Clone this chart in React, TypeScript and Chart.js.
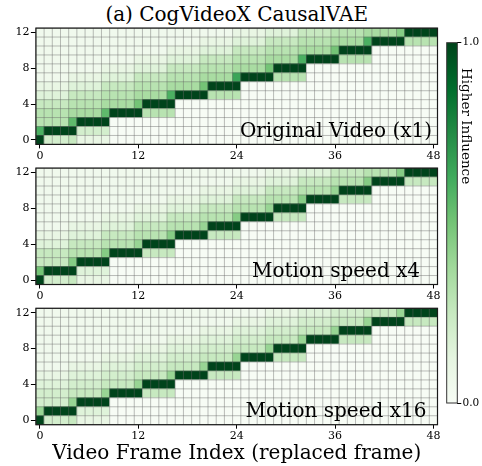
import React, { useEffect, useRef } from 'react';
import { Chart, registerables } from 'chart.js';

Chart.register(...registerables);
Chart.defaults.font.family = "'DejaVu Serif', serif";
Chart.defaults.color = '#000';

// ---------------- data ----------------
// x: video frame index (replaced frame), y: latent frame index
const FRAME_INDEX = Array.from({ length: 49 }, (_, i) => i);
const LATENT_INDEX = [0, 1, 2, 3, 4, 5, 6, 7, 8, 9, 10, 11, 12];
const X_TICKS = [0, 12, 24, 36, 48];
const Y_TICKS = [0, 4, 8, 12];
const CBAR_TICKS = [0, 1];
const CBAR_RANGE = [0, 1];

const TITLE = '(a) CogVideoX CausalVAE';
const X_TITLE = 'Video Frame Index (replaced frame)';
const CBAR_TITLE = 'Higher Influence';
const PANEL_LABELS = ['Original Video (x1)', 'Motion speed x4', 'Motion speed x16'];

// influence, one char per frame: '0'..'9','A'..'K' = 0.00..1.00 in steps of 0.05
// layout of each row: frame 0 | frames 1-4 | 5-8 | ... | 45-48 ; row index = latent index
const LEVELS = '0123456789ABCDEFGHIJK';

const ORIGINAL_X1 = [
  'K 4445 2222 0000 0000 0000 0000 0000 0000 0000 0000 0000 0000',
  'C KKKK 4444 0000 0000 0000 0000 0000 0000 0000 0000 0000 0000',
  '6 666B KKKK 0000 0000 0000 0000 0000 0000 0000 0000 0000 0000',
  '6 6667 777B KKKK 6666 0000 0000 0000 0000 0000 0000 0000 0000',
  '5 5556 6667 777A KKKK 0000 0000 0000 0000 0000 0000 0000 0000',
  '3 3335 5556 6667 777C KKKK 6666 0000 0000 0000 0000 0000 0000',
  '2 2223 3335 5556 6667 777A KKKK 0000 0000 0000 0000 0000 0000',
  '1 1112 2223 3335 5556 6667 777D KKKK 6666 0000 0000 0000 0000',
  '1 1111 1112 2223 3335 5556 6667 777A KKKK 0000 0000 0000 0000',
  '1 1111 1111 1112 2223 3335 5556 6667 777C KKKK 6666 0000 0000',
  '1 1111 1111 1111 1112 2223 3335 5556 6667 777A KKKK 0000 0000',
  '1 1111 1111 1111 1111 1112 2223 3335 5556 6667 777C KKKK 6666',
  '1 1111 1111 1111 1111 1111 1112 2223 3335 5556 6667 7779 KKKK',
];

const MOTION_X4 = [
  'K 4445 2222 0000 0000 0000 0000 0000 0000 0000 0000 0000 0000',
  'A KKKK 3333 0000 0000 0000 0000 0000 0000 0000 0000 0000 0000',
  '5 5559 KKKK 0000 0000 0000 0000 0000 0000 0000 0000 0000 0000',
  '5 5556 6669 KKKK 5555 0000 0000 0000 0000 0000 0000 0000 0000',
  '3 3335 5556 6668 KKKK 0000 0000 0000 0000 0000 0000 0000 0000',
  '2 2223 3335 5556 6669 KKKK 5555 0000 0000 0000 0000 0000 0000',
  '1 1112 2223 3335 5556 6668 KKKK 0000 0000 0000 0000 0000 0000',
  '1 1111 1112 2223 3335 5556 6669 KKKK 5555 0000 0000 0000 0000',
  '1 1111 1111 1112 2223 3335 5556 6668 KKKK 0000 0000 0000 0000',
  '1 1111 1111 1111 1112 2223 3335 5556 6669 KKKK 5555 0000 0000',
  '1 1111 1111 1111 1111 1112 2223 3335 5556 6668 KKKK 0000 0000',
  '1 1111 1111 1111 1111 1111 1112 2223 3335 5556 6669 KKKK 5555',
  '1 1111 1111 1111 1111 1111 1111 1112 2223 3335 5556 6669 KKKK',
];

const MOTION_X16 = [
  'K 4445 2222 0000 0000 0000 0000 0000 0000 0000 0000 0000 0000',
  '8 KKKK 3333 0000 0000 0000 0000 0000 0000 0000 0000 0000 0000',
  '4 4448 KKKK 0000 0000 0000 0000 0000 0000 0000 0000 0000 0000',
  '4 4445 5558 KKKK 5555 0000 0000 0000 0000 0000 0000 0000 0000',
  '3 3334 4445 5558 KKKK 0000 0000 0000 0000 0000 0000 0000 0000',
  '2 2223 3334 4445 5558 KKKK 5555 0000 0000 0000 0000 0000 0000',
  '1 1112 2223 3334 4445 5558 KKKK 0000 0000 0000 0000 0000 0000',
  '1 1111 1112 2223 3334 4445 5558 KKKK 5555 0000 0000 0000 0000',
  '1 1111 1111 1112 2223 3334 4445 5558 KKKK 0000 0000 0000 0000',
  '1 1111 1111 1111 1112 2223 3334 4445 5558 KKKK 5555 0000 0000',
  '1 1111 1111 1111 1111 1112 2223 3334 4445 5558 KKKK 0000 0000',
  '1 1111 1111 1111 1111 1111 1112 2223 3334 4445 5558 KKKK 5555',
  '1 1111 1111 1111 1111 1111 1111 1112 2223 3334 4445 5558 KKKK',
];

// ---------------- styling helpers ----------------
const GREENS = ['#f7fcf5', '#e5f5e0', '#c7e9c0', '#a1d99b', '#74c476', '#41ab5d', '#238b45', '#006d2c', '#00441b'];

function hexRgb(h: string): number[] {
  return [parseInt(h.slice(1, 3), 16), parseInt(h.slice(3, 5), 16), parseInt(h.slice(5, 7), 16)];
}

function greens(v: number): string {
  const t = Math.max(0, Math.min(1, v)) * (GREENS.length - 1);
  const i = Math.min(Math.floor(t), GREENS.length - 2);
  const f = t - i;
  const a = hexRgb(GREENS[i]);
  const b = hexRgb(GREENS[i + 1]);
  const c = a.map((x, k) => Math.round(x + (b[k] - x) * f));
  return `rgb(${c[0]},${c[1]},${c[2]})`;
}

function parseRow(s: string): number[] {
  const chars = s.replace(/\s+/g, '').split('');
  return chars.map((ch) => LEVELS.indexOf(ch) / 20);
}

const SERIF = "'DejaVu Serif', serif";
const TICK_FONT = { family: SERIF, size: 11 };

const cellGridPlugin = {
  id: 'cellGrid',
  afterDatasetsDraw(chart: any) {
    const { ctx, chartArea: a, scales } = chart;
    const xs = scales.x;
    const ys = scales.y;
    ctx.save();
    ctx.strokeStyle = 'rgba(100,100,100,0.48)';
    ctx.lineWidth = 0.9;
    ctx.beginPath();
    for (let c = 0; c <= FRAME_INDEX.length; c++) {
      const px = xs.getPixelForValue(c - 0.5);
      ctx.moveTo(px, a.top);
      ctx.lineTo(px, a.bottom);
    }
    for (let r = 0; r <= LATENT_INDEX.length; r++) {
      const py = ys.getPixelForValue(r - 0.5);
      ctx.moveTo(a.left, py);
      ctx.lineTo(a.right, py);
    }
    ctx.stroke();
    ctx.strokeStyle = '#1a1a1a';
    ctx.lineWidth = 1.2;
    ctx.strokeRect(a.left, a.top, a.right - a.left, a.bottom - a.top);
    ctx.restore();
  },
};

const frameOnlyPlugin = {
  id: 'frameOnly',
  afterDatasetsDraw(chart: any) {
    const { ctx, chartArea: a } = chart;
    ctx.save();
    ctx.strokeStyle = '#333';
    ctx.lineWidth = 1;
    ctx.strokeRect(a.left, a.top, a.right - a.left, a.bottom - a.top);
    ctx.restore();
  },
};

const CANVAS_W = 445;
const CANVAS_H = 143;
const PLOT_LEFT = 35.9;
const PLOT_RIGHT = 437.5;
const PLOT_H = 116.4;
const X_AXIS_H = 18;

type PanelProps = { rows: string[]; label: string; top: number; padTop: number };

function HeatPanel({ rows, label, top, padTop }: PanelProps) {
  const ref = useRef<HTMLCanvasElement>(null);
  useEffect(() => {
    const values = rows.map(parseRow);
    const datasets = LATENT_INDEX.map((r) => ({
      label: `latent ${r}`,
      data: FRAME_INDEX.map((c) => ({ x: c, y: [r - 0.5, r + 0.5] })),
      backgroundColor: FRAME_INDEX.map((c) => greens(values[r][c] ?? 0)),
      borderWidth: 0,
      grouped: false,
      barPercentage: 1,
      categoryPercentage: 1,
    }));
    const chart = new Chart(ref.current as HTMLCanvasElement, {
      type: 'bar',
      data: { datasets: datasets as any },
      options: {
        animation: false,
        responsive: false,
        maintainAspectRatio: false,
        events: [],
        layout: {
          padding: {
            top: padTop,
            left: 0,
            right: CANVAS_W - PLOT_RIGHT,
            bottom: CANVAS_H - padTop - PLOT_H - X_AXIS_H,
          },
        },
        plugins: { legend: { display: false }, tooltip: { enabled: false }, title: { display: false } },
        scales: {
          x: {
            type: 'linear',
            min: -0.5,
            max: 48.5,
            offset: false,
            afterBuildTicks: (s: any) => {
              s.ticks = X_TICKS.map((v) => ({ value: v }));
            },
            ticks: { font: TICK_FONT, color: '#000', padding: 1, maxRotation: 0, autoSkip: false },
            grid: { offset: false, drawOnChartArea: false, drawTicks: true, tickLength: 4, color: '#000', lineWidth: 1 },
            border: { display: false },
            afterFit: (s: any) => {
              s.height = X_AXIS_H;
            },
          },
          y: {
            type: 'linear',
            min: -0.5,
            max: 12.5,
            beginAtZero: false,
            afterBuildTicks: (s: any) => {
              s.ticks = Y_TICKS.map((v) => ({ value: v }));
            },
            ticks: { font: TICK_FONT, color: '#000', padding: 1.5, autoSkip: false },
            grid: { drawOnChartArea: false, drawTicks: true, tickLength: 5, color: '#000', lineWidth: 1 },
            border: { display: false },
            afterFit: (s: any) => {
              s.width = PLOT_LEFT;
            },
          },
        },
      } as any,
      plugins: [cellGridPlugin],
    });
    return () => chart.destroy();
  }, [rows, padTop]);

  const plotBottom = top + padTop + PLOT_H;
  const baseline = plotBottom - 7.8;
  return (
    <>
      <canvas
        ref={ref}
        width={CANVAS_W}
        height={CANVAS_H}
        style={{ position: 'absolute', left: 0, top, width: CANVAS_W, height: CANVAS_H }}
      />
      <div
        style={{
          position: 'absolute',
          left: 336 - 150,
          width: 300,
          top: baseline - 16.9,
          textAlign: 'center',
          font: `20px ${SERIF}`,
          lineHeight: '20px',
          whiteSpace: 'nowrap',
          color: '#000',
        }}
      >
        {label}
      </div>
    </>
  );
}

function ColorBar() {
  const ref = useRef<HTMLCanvasElement>(null);
  useEffect(() => {
    const chart = new Chart(ref.current as HTMLCanvasElement, {
      type: 'bar',
      data: {
        labels: [''],
        datasets: [
          {
            data: [CBAR_RANGE as any],
            backgroundColor: (ctx: any) => {
              const area = ctx.chart.chartArea;
              if (!area) return GREENS[4];
              const g = ctx.chart.ctx.createLinearGradient(0, area.bottom, 0, area.top);
              GREENS.forEach((c, i) => g.addColorStop(i / (GREENS.length - 1), c));
              return g;
            },
            borderWidth: 0,
            barPercentage: 1,
            categoryPercentage: 1,
          },
        ],
      },
      options: {
        animation: false,
        responsive: false,
        maintainAspectRatio: false,
        events: [],
        layout: { padding: { left: 6.7, top: 12.7, bottom: 17, right: 0 } },
        plugins: { legend: { display: false }, tooltip: { enabled: false } },
        scales: {
          x: { display: false },
          y: {
            position: 'right',
            min: 0,
            max: 1,
            beginAtZero: false,
            afterBuildTicks: (s: any) => {
              s.ticks = CBAR_TICKS.map((v) => ({ value: v }));
            },
            ticks: {
              font: { family: SERIF, size: 10.5 },
              color: '#000',
              padding: 1.2,
              callback: (v: any) => Number(v).toFixed(1),
            },
            grid: { drawOnChartArea: false, drawTicks: true, tickLength: 4, color: '#000' },
            border: { display: false },
            afterFit: (s: any) => {
              s.width = 24.7;
            },
          },
        },
      } as any,
      plugins: [frameOnlyPlugin],
    });
    return () => chart.destroy();
  }, []);
  return (
    <canvas
      ref={ref}
      width={42}
      height={390}
      style={{ position: 'absolute', left: 440, top: 30, width: 42, height: 390 }}
    />
  );
}

export default function App() {
  return (
    <div
      style={{
        position: 'fixed',
        left: 0,
        top: 0,
        width: 482,
        height: 466,
        background: '#fff',
        overflow: 'hidden',
      }}
    >
      <div
        style={{
          position: 'absolute',
          left: 0,
          width: 473.4,
          top: 4.1,
          textAlign: 'center',
          font: `20px ${SERIF}`,
          lineHeight: '20px',
          whiteSpace: 'nowrap',
          color: '#000',
        }}
      >
        {TITLE}
      </div>
      <HeatPanel rows={ORIGINAL_X1} label={PANEL_LABELS[0]} top={20} padTop={8.0} />
      <HeatPanel rows={MOTION_X4} label={PANEL_LABELS[1]} top={160} padTop={8.1} />
      <HeatPanel rows={MOTION_X16} label={PANEL_LABELS[2]} top={300} padTop={8.3} />
      <ColorBar />
      <div
        style={{
          position: 'absolute',
          left: 459,
          top: 68,
          width: 16,
          writingMode: 'vertical-rl',
          font: `13.5px ${SERIF}`,
          lineHeight: '16px',
          whiteSpace: 'nowrap',
          color: '#000',
        }}
      >
        {CBAR_TITLE}
      </div>
      <div
        style={{
          position: 'absolute',
          left: 0,
          width: 473.4,
          top: 442,
          textAlign: 'center',
          font: `20px ${SERIF}`,
          lineHeight: '20px',
          whiteSpace: 'nowrap',
          color: '#000',
        }}
      >
        {X_TITLE}
      </div>
    </div>
  );
}
